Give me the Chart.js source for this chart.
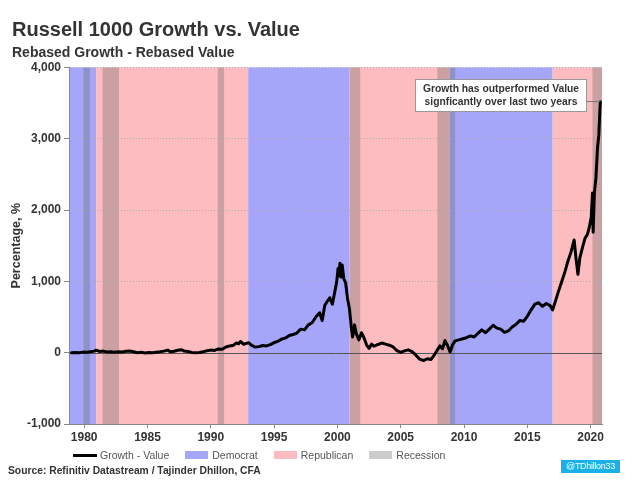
<!DOCTYPE html>
<html>
<head>
<meta charset="utf-8">
<script src="https://cdn.jsdelivr.net/npm/chart.js@4.4.0/dist/chart.umd.min.js"></script>
<style>
body{margin:0;background:#fff;font-family:"Liberation Sans",Arial,sans-serif;}
#wrap{position:relative;width:640px;height:483px;}
#legend{position:absolute;left:73px;top:449px;display:flex;align-items:center;gap:16px;font-size:10.5px;color:#555;line-height:12px;}
#legend .item{display:flex;align-items:center;}
#legend .sw{width:23px;height:8px;margin-right:4px;}
#legend .ln{width:24px;height:3px;background:#000;margin-right:3px;}
#source{position:absolute;left:8px;top:465px;font-size:10.3px;font-weight:bold;color:#333;}
#tag{position:absolute;left:561px;top:460px;width:59px;height:13px;background:#19b1e8;color:#fff;font-size:9px;line-height:13px;text-align:center;letter-spacing:-0.3px;}
</style>
</head>
<body>
<div id="wrap">
<canvas id="GVChart" width="640" height="483"></canvas>
<div id="legend"></div>
<div id="source">Source: Refinitiv Datastream / Tajinder Dhillon, CFA</div>
<div id="tag">@TDhillon33</div>
</div>
<script>
var years = [1979.0,1979.3,1979.6,1979.9,1980.2,1980.5,1980.8,1980.95,1981.2,1981.5,1981.8,1982.1,1982.4,1982.7,1983.0,1983.3,1983.6,1983.9,1984.2,1984.5,1984.8,1985.1,1985.4,1985.7,1986.0,1986.3,1986.6,1986.8,1987.1,1987.4,1987.7,1987.9,1988.2,1988.5,1988.8,1989.1,1989.4,1989.7,1990.0,1990.3,1990.6,1990.9,1991.2,1991.5,1991.8,1992.0,1992.2,1992.35,1992.6,1992.8,1993.0,1993.2,1993.5,1993.8,1994.1,1994.4,1994.7,1995.0,1995.3,1995.6,1995.9,1996.2,1996.5,1996.8,1997.1,1997.4,1997.7,1998.0,1998.3,1998.6,1998.8,1999.0,1999.2,1999.4,1999.6,1999.8,1999.95,2000.05,2000.12,2000.2,2000.28,2000.38,2000.5,2000.65,2000.8,2000.95,2001.1,2001.2,2001.35,2001.5,2001.7,2001.9,2002.1,2002.3,2002.5,2002.7,2002.9,2003.2,2003.5,2003.8,2004.1,2004.4,2004.7,2005.0,2005.3,2005.6,2005.9,2006.2,2006.5,2006.8,2007.1,2007.4,2007.7,2007.9,2008.1,2008.3,2008.5,2008.7,2008.9,2009.1,2009.3,2009.6,2009.9,2010.2,2010.5,2010.8,2011.1,2011.4,2011.7,2012.0,2012.3,2012.6,2012.9,2013.2,2013.5,2013.8,2014.1,2014.4,2014.7,2015.0,2015.3,2015.6,2015.9,2016.2,2016.5,2016.8,2017.0,2017.2,2017.5,2017.8,2018.0,2018.2,2018.45,2018.7,2018.85,2019.0,2019.15,2019.35,2019.55,2019.75,2019.9,2020.05,2020.15,2020.2,2020.3,2020.42,2020.55,2020.65,2020.72,2020.77];
var spread = [0,3,-2,8,5,14,22,35,18,22,10,14,6,12,10,20,24,12,0,5,-3,4,-2,6,12,22,36,14,20,34,42,22,16,4,-2,2,12,28,36,32,52,48,80,95,105,135,125,158,118,130,140,105,78,85,100,95,112,140,160,190,205,240,255,275,330,320,390,420,500,560,450,660,720,770,680,860,1000,1180,1080,1255,1060,1230,1040,980,760,620,350,220,390,260,180,280,210,110,60,120,90,115,135,120,105,80,30,5,25,40,15,-35,-90,-110,-85,-95,-20,40,95,55,170,100,10,110,165,180,195,210,235,220,270,320,280,330,385,345,330,285,305,360,395,450,440,510,600,680,700,650,690,660,600,710,880,1040,1150,1280,1410,1580,1320,1100,1330,1470,1600,1660,1760,1900,2240,1690,2240,2450,2880,3050,3350,3520];

var xTicks = [1980,1985,1990,1995,2000,2005,2010,2015,2020];
var yTicks = [-1000,0,1000,2000,3000,4000];

var democrat = [[1978.8,1980.95],[1992.95,2000.98],[2008.86,2017.0]];
var republican = [[1980.95,1992.95],[2000.98,2008.86],[2017.0,2020.9]];
var recession = [[1979.95,1980.45],[1981.45,1982.75],[1990.55,1991.05],[2001.0,2001.8],[2007.9,2009.3],[2020.15,2020.9]];

var demColor = '#a5a5fa';
var repColor = '#fcbcc0';
var recColor = 'rgba(110,110,110,0.35)';
var noteText = ['Growth has outperformed Value', 'signficantly over last two years'];

var points = [];
for(let i=0; i<years.length; i++) points.push({x: years[i], y: spread[i]});

// html legend
var legendItems = [['line','#000','Growth - Value'],['box',demColor,'Democrat'],['box',repColor,'Republican'],['box',recColor,'Recession']];
var legendDiv = document.getElementById('legend');
legendItems.forEach(function(it){
	var d = document.createElement('div');
	d.className = 'item';
	var s = document.createElement('span');
	s.className = it[0] == 'line' ? 'ln' : 'sw';
	s.style.background = it[1];
	d.appendChild(s);
	d.appendChild(document.createTextNode(it[2]));
	legendDiv.appendChild(d);
});

var bandsPlugin = {
	id: 'bands',
	beforeDraw: function(chart){
		var ctx = chart.ctx, area = chart.chartArea, x = chart.scales.x;
		function fillSpans(spans, color){
			ctx.fillStyle = color;
			spans.forEach(function(s){
				var x1 = Math.max(area.left, x.getPixelForValue(s[0]));
				var x2 = Math.min(area.right, x.getPixelForValue(s[1]));
				ctx.fillRect(x1, area.top, x2 - x1, area.bottom - area.top);
			});
		}
		ctx.save();
		fillSpans(democrat, demColor);
		fillSpans(republican, repColor);
		fillSpans(recession, recColor);
		ctx.restore();
	},
	beforeDatasetsDraw: function(chart){
		var ctx = chart.ctx, area = chart.chartArea;
		var y0 = Math.round(chart.scales.y.getPixelForValue(0)) + 0.5;
		ctx.save();
		ctx.strokeStyle = '#555';
		ctx.lineWidth = 1;
		ctx.beginPath();
		ctx.moveTo(area.left, y0);
		ctx.lineTo(area.right, y0);
		ctx.stroke();
		ctx.restore();
	},
	afterDatasetsDraw: function(chart){
		var ctx = chart.ctx;
		var pts = chart.getDatasetMeta(0).data;
		var last = pts[pts.length - 1];
		var w = 171, h = 32;
		var bx = Math.round(last.x - 14 - w) + 0.5;
		var by = Math.round(last.y - 23) + 0.5;
		ctx.save();
		ctx.strokeStyle = '#777';
		ctx.lineWidth = 1;
		ctx.beginPath();
		ctx.moveTo(bx + w, by + 22);
		ctx.lineTo(last.x, last.y);
		ctx.stroke();
		ctx.fillStyle = '#fff';
		ctx.fillRect(bx, by, w, h);
		ctx.strokeStyle = '#999';
		ctx.strokeRect(bx, by, w, h);
		ctx.fillStyle = '#333';
		ctx.font = 'bold 10.3px "Liberation Sans", Arial, sans-serif';
		ctx.textAlign = 'center';
		ctx.textBaseline = 'middle';
		ctx.fillText(noteText[0], bx + w/2, by + 9.5);
		ctx.fillText(noteText[1], bx + w/2, by + 23);
		ctx.restore();
	}
};

var font = '"Liberation Sans", Arial, sans-serif';

new Chart(document.getElementById('GVChart'), {
	type: 'line',
	data: {
		datasets: [{
			label: 'Growth - Value',
			data: points,
			borderColor: '#000',
			borderWidth: 3,
			borderJoinStyle: 'round',
			borderCapStyle: 'round',
			pointRadius: 0,
			tension: 0
		}]
	},
	plugins: [bandsPlugin],
	options: {
		responsive: false,
		animation: false,
		layout: {padding: {left: 12, right: 38, top: 0, bottom: 35}},
		plugins: {
			legend: {display: false},
			tooltip: {enabled: false},
			title: {
				display: true,
				text: 'Russell 1000 Growth vs. Value',
				align: 'start',
				color: '#333',
				font: {family: font, size: 20, weight: 'bold'},
				padding: {top: 18, bottom: 0}
			},
			subtitle: {
				display: true,
				text: 'Rebased Growth - Rebased Value',
				align: 'start',
				color: '#333',
				font: {family: font, size: 14, weight: 'bold'},
				padding: {top: 3, bottom: 5.6}
			}
		},
		scales: {
			x: {
				type: 'linear',
				min: 1978.8,
				max: 2020.9,
				afterBuildTicks: function(axis){ axis.ticks = xTicks.map(function(v){ return {value: v}; }); },
				afterFit: function(scale){ scale.height = 24; },
				ticks: {
					color: '#333',
					font: {family: font, size: 12, weight: 'bold'},
					padding: 2,
					maxRotation: 0,
					callback: function(v){ return String(v); }
				},
				grid: {drawOnChartArea: false, tickLength: 4, tickColor: '#888'},
				border: {color: '#888'}
			},
			y: {
				min: -1000,
				max: 4000,
				afterBuildTicks: function(axis){ axis.ticks = yTicks.map(function(v){ return {value: v}; }); },
				afterFit: function(scale){ scale.width = 57; },
				ticks: {
					color: '#333',
					font: {family: font, size: 12, weight: 'bold'},
					padding: 3,
					callback: function(v){ return v.toLocaleString('en-US'); }
				},
				grid: {
					tickLength: 5,
					tickColor: '#888',
					color: function(c){ return c.tick && c.tick.value === 0 ? 'rgba(0,0,0,0)' : '#aaa'; }
				},
				border: {color: '#888', dash: [1,2]},
				title: {
					display: true,
					text: 'Percentage, %',
					color: '#333',
					font: {family: font, size: 12.5, weight: 'bold'},
					padding: {top: -3, bottom: 0}
				}
			}
		}
	}
});
</script>
</body>
</html>
